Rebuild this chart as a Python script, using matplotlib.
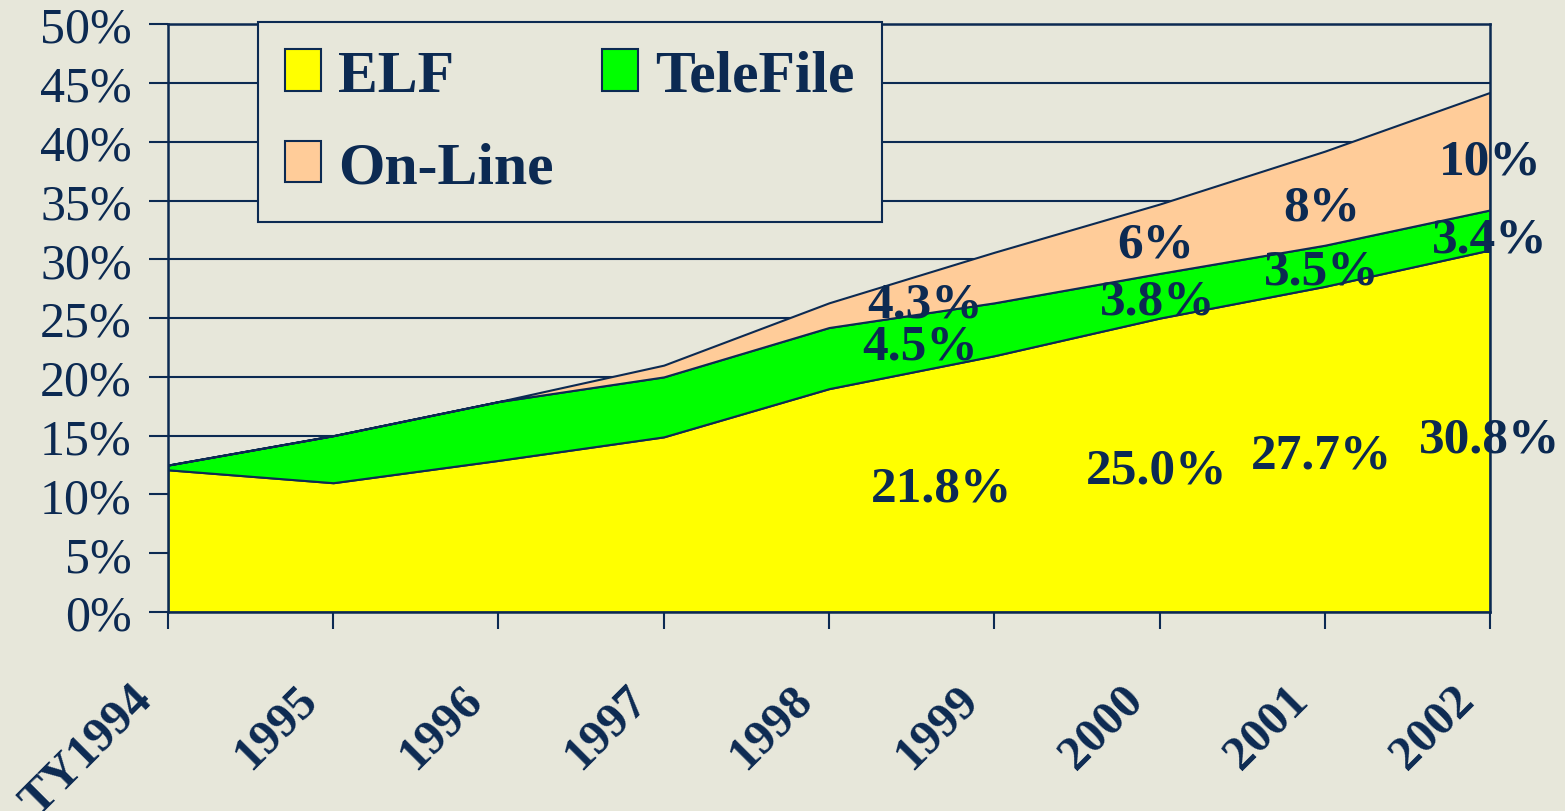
import matplotlib
matplotlib.use("Agg")
import matplotlib.pyplot as plt
import matplotlib.transforms as mtransforms
from matplotlib.patches import Patch

# data (percent of returns)
years = ["TY1994", "1995", "1996", "1997", "1998", "1999", "2000", "2001", "2002"]
elf = [12.1, 11.0, 12.9, 14.9, 19.0, 21.8, 25.0, 27.7, 30.8]
telefile = [0.4, 4.0, 5.0, 5.1, 5.2, 4.5, 3.8, 3.5, 3.4]
online = [0.0, 0.0, 0.0, 1.0, 2.1, 4.3, 5.9, 8.0, 10.0]

# value labels written on the areas
label_text = ["21.8%", "25.0%", "27.7%", "30.8%",
              "4.5%", "3.8%", "3.5%", "3.4%",
              "4.3%", "6%", "8%", "10%"]
label_x = [4.68, 5.98, 6.98, 8.0, 4.55, 5.99, 6.98, 8.0, 4.58, 5.98, 6.98, 8.0]
label_y = [10.5, 12.0, 13.3, 14.7, 22.6, 26.4, 29.0, 31.7, 26.2, 31.3, 34.4, 38.3]

navy = "#0c2a52"
bg = "#e7e7da"
colors = ["#ffff00", "#00ff00", "#ffcc99"]

plt.rcParams["font.family"] = ["Liberation Serif", "DejaVu Serif"]

fig = plt.figure(figsize=(15.65, 8.12), dpi=100, facecolor=bg)
ax = fig.add_axes([0.1073, 0.245, 0.8448, 0.724])
ax.set_facecolor(bg)

x = list(range(len(years)))
ax.stackplot(x, elf, telefile, online, colors=colors,
             edgecolor=navy, linewidth=1.5, zorder=3)

ax.set_xlim(0, len(years) - 1)
ax.set_ylim(0, 50)
ax.set_yticks(range(0, 51, 5))
ax.set_yticklabels([f"{v}%" for v in range(0, 51, 5)], fontsize=36, color=navy)
ax.set_xticks(x)
ax.set_xticklabels(years, fontsize=35, fontweight="bold", color=navy,
                   rotation=45, ha="right", va="center", rotation_mode="anchor")
ax.tick_params(axis="x", length=12, width=1.5, color=navy, pad=48)
ax.tick_params(axis="y", length=14, width=1.5, color=navy, pad=12)
# labels sit a bit left of their ticks in the original
shift = mtransforms.ScaledTranslation(-0.23, 0.03, fig.dpi_scale_trans)
for lab in ax.get_xticklabels():
    lab.set_transform(lab.get_transform() + shift)
ax.grid(axis="y", color=navy, linewidth=1.5, zorder=1)
ax.set_axisbelow(True)
for s in ax.spines.values():
    s.set_color(navy)
    s.set_linewidth(1.8)
    s.set_zorder(5)

for t, lx, ly in zip(label_text, label_x, label_y):
    ax.text(lx, ly, t, fontsize=37, fontweight="bold", color=navy,
            ha="center", va="center", zorder=6, clip_on=False)

handles = [Patch(facecolor=colors[0], edgecolor=navy, linewidth=1.5, label="ELF"),
           Patch(facecolor=colors[2], edgecolor=navy, linewidth=1.5, label="On-Line"),
           Patch(facecolor=colors[1], edgecolor=navy, linewidth=1.5, label="TeleFile")]
leg = ax.legend(handles=handles, ncol=2, loc="upper left",
                bbox_to_anchor=(0.068, 1.004), borderaxespad=0, frameon=True,
                fancybox=False, prop={"size": 43, "weight": "bold"},
                handlelength=0.6, handleheight=0.7, handletextpad=0.3,
                columnspacing=0.8, labelspacing=0.62, borderpad=0.45)
leg.get_frame().set_facecolor(bg)
leg.get_frame().set_edgecolor(navy)
leg.get_frame().set_linewidth(1.5)
leg.get_frame().set_alpha(1)
for t in leg.get_texts():
    t.set_color(navy)
leg.set_zorder(7)

fig.savefig("out.png", dpi=100, facecolor=bg)
